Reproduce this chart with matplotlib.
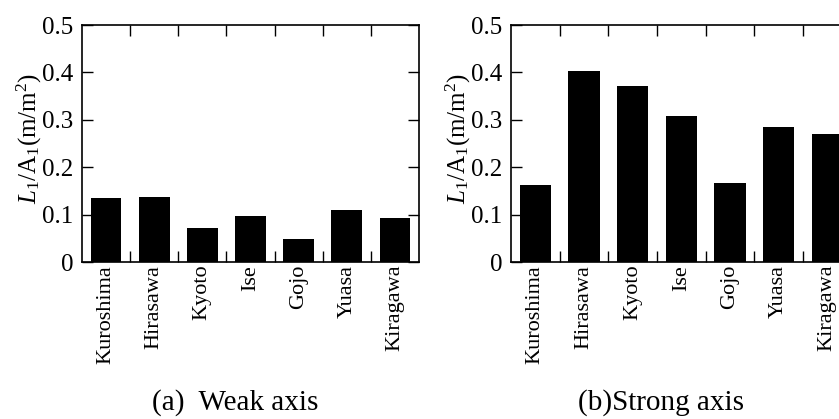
import numpy as np
import matplotlib
matplotlib.use("Agg")
import matplotlib.pyplot as plt

# Datos
sites = ["Kuroshima", "Hirasawa", "Kyoto", "Ise", "Gojo", "Yuasa", "Kiragawa"]
weak_axis = [0.135, 0.137, 0.071, 0.097, 0.049, 0.109, 0.092]
strong_axis = [0.162, 0.402, 0.371, 0.308, 0.167, 0.285, 0.270]
y_ticks = [0, 0.1, 0.2, 0.3, 0.4, 0.5]
y_tick_labels = ["0", "0.1", "0.2", "0.3", "0.4", "0.5"]
captions = ["(a)  Weak axis", "(b)Strong axis"]

plt.rcParams["font.family"] = ["Liberation Serif", "DejaVu Serif"]
plt.rcParams["mathtext.fontset"] = "custom"
plt.rcParams["mathtext.rm"] = "Liberation Serif"
plt.rcParams["mathtext.it"] = "Liberation Serif:italic"

fig = plt.figure(figsize=(8.39, 4.19), dpi=100)
ax1 = fig.add_axes([0.0977, 0.3747, 0.4017, 0.5656])
ax2 = fig.add_axes([0.609, 0.3747, 0.4060, 0.5656])

x = np.arange(len(sites))
for ax, vals, cap in [(ax1, weak_axis, captions[0]), (ax2, strong_axis, captions[1])]:
    ax.bar(x, vals, width=0.64, color="black", zorder=1)
    ax.set_xlim(-0.5, len(sites) - 0.5)
    ax.set_ylim(0, 0.5)
    ax.set_yticks(y_ticks)
    ax.set_yticklabels(y_tick_labels, fontsize=18)
    ax.set_xticks(x)
    ax.set_xticklabels(sites, rotation=90, fontsize=16)
    ax.set_xticks(np.arange(0.5, len(sites) - 0.5, 1), minor=True)
    ax.tick_params(axis="x", which="major", length=0, pad=2)
    ax.tick_params(axis="x", which="minor", direction="in", length=8, top=True, bottom=True, width=1)
    ax.tick_params(axis="y", direction="in", length=8, left=True, right=True, width=1, pad=6)
    for s in ax.spines.values():
        s.set_linewidth(1.2)
        s.set_zorder(3)
    ax.set_ylabel(r"$L_1$/A$_1$(m/m$^2$)", fontsize=18)
    ax.yaxis.set_label_coords(-0.112, 0.52)
    ax.text(0.5, -0.595, cap, transform=ax.transAxes, ha="center", va="center", fontsize=21)

# la segunda figura queda recortada a la derecha como en el original
ax1.texts[0].set_position((0.455, -0.595))
ax2.texts[0].set_position((0.44, -0.595))

plt.savefig("out.png", dpi=100)
